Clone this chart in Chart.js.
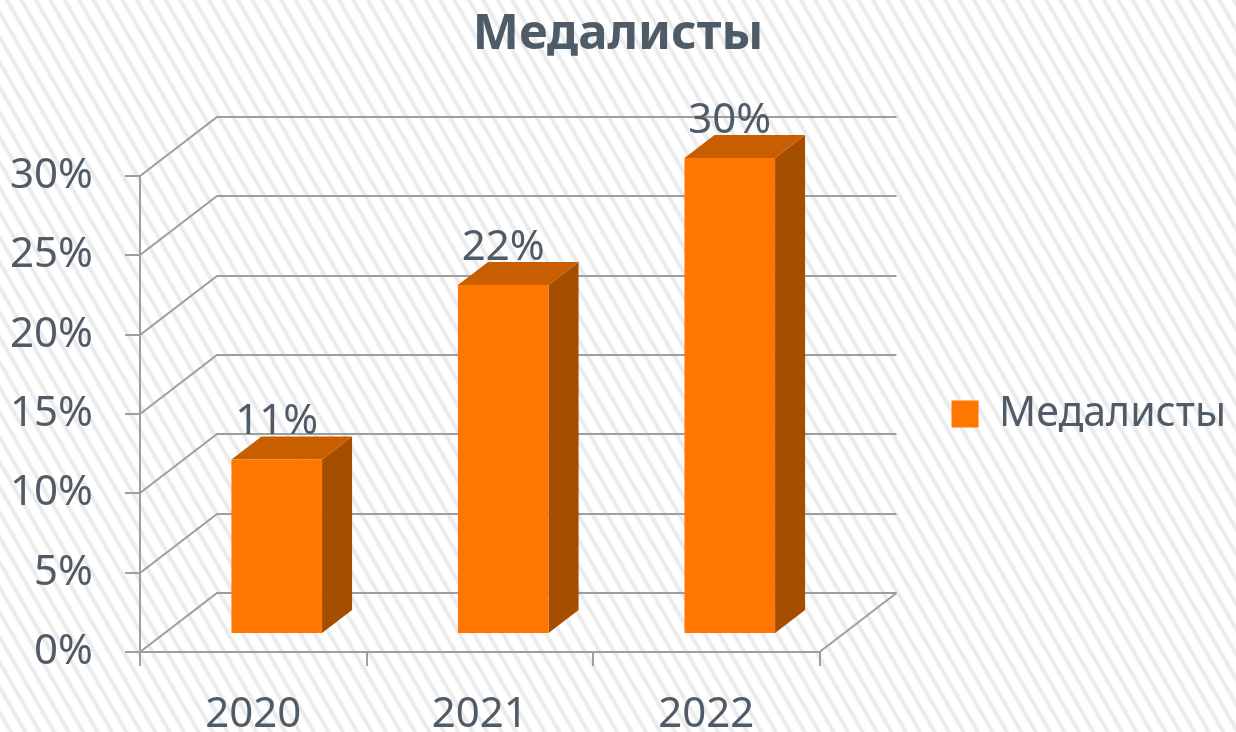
<!DOCTYPE html>
<html>
<head>
<meta charset="utf-8">
<script src="https://cdn.jsdelivr.net/npm/chart.js@4.4.1/dist/chart.umd.min.js"></script>
<style>
html, body { margin: 0; padding: 0; }
body {
  width: 1236px; height: 732px; overflow: hidden;
  background: repeating-linear-gradient(60deg, #ffffff 0px, #ffffff 6.5px, #ebebeb 8.5px, #ebebeb 10.5px, #ffffff 12.5px);
}
#wrap { width: 1236px; height: 732px; }
</style>
</head>
<body>
<div id="wrap"><canvas id="c" width="1236" height="732"></canvas></div>
<script>
// ---- data ----
const categories = ['2020', '2021', '2022'];
const seriesName = 'Медалисты';
const values = [11, 22, 30];
const yTickValues = [0, 5, 10, 15, 20, 25, 30];
const yTickLabels = ['0%', '5%', '10%', '15%', '20%', '25%', '30%'];
const chartTitle = 'Медалисты';

// ---- style ----
const TEXT = '#4F5B67';
const GRID = '#9E9E9E';
const FRONT = '#FF7700';
const TOP = '#C95E00';
const SIDE = '#A54E00';
const FONT = 'Noto Sans';
const DX = 77, DY = -59;          // depth of the 3D walls
const BAR_START = 0.305, BAR_DEPTH = 0.39;

const depth3d = {
  id: 'depth3d',
  beforeDatasetsDraw(chart) {
    const ctx = chart.ctx;
    const area = chart.chartArea;
    const ys = chart.scales.y;
    ctx.save();
    ctx.strokeStyle = GRID;
    ctx.lineWidth = 2;
    yTickValues.forEach(v => {
      const yF = Math.round(ys.getPixelForValue(v));
      ctx.beginPath();
      ctx.moveTo(area.left, yF);
      ctx.lineTo(area.left + DX, yF + DY);
      ctx.lineTo(area.right + DX, yF + DY);
      ctx.stroke();
    });
    const y0 = Math.round(ys.getPixelForValue(0));
    ctx.beginPath();
    ctx.moveTo(area.right, y0);
    ctx.lineTo(area.right + DX, y0 + DY);
    ctx.stroke();

    const meta = chart.getDatasetMeta(0);
    const fx = DX * BAR_START, fy = DY * BAR_START;
    const bx = DX * BAR_DEPTH, by = DY * BAR_DEPTH;
    meta.data.forEach((el, i) => {
      const p = el.getProps(['x', 'y', 'base', 'width'], true);
      const L = p.x - p.width / 2 + fx, R = p.x + p.width / 2 + fx;
      const T = p.y + fy, B = p.base + fy;
      ctx.fillStyle = SIDE;
      ctx.beginPath();
      ctx.moveTo(R, T); ctx.lineTo(R + bx, T + by); ctx.lineTo(R + bx, B + by); ctx.lineTo(R, B);
      ctx.closePath(); ctx.fill();
      ctx.fillStyle = TOP;
      ctx.beginPath();
      ctx.moveTo(L, T); ctx.lineTo(L + bx, T + by); ctx.lineTo(R + bx, T + by); ctx.lineTo(R, T);
      ctx.closePath(); ctx.fill();
      ctx.fillStyle = FRONT;
      ctx.fillRect(L, T, R - L, B - T);
      ctx.fillStyle = TEXT;
      ctx.font = '42px "' + FONT + '"';
      ctx.textAlign = 'center';
      ctx.textBaseline = 'alphabetic';
      ctx.fillText(values[i] + '%', (L + R) / 2, T + by - 2);
    });
    ctx.restore();
    return false;
  }
};

new Chart(document.getElementById('c'), {
  type: 'bar',
  data: {
    labels: categories,
    datasets: [{
      label: seriesName,
      data: values,
      backgroundColor: FRONT,
      borderWidth: 0,
      categoryPercentage: 1,
      barPercentage: 0.4
    }]
  },
  options: {
    responsive: false,
    animation: false,
    devicePixelRatio: 1,
    layout: { padding: 0 },
    plugins: {
      tooltip: { enabled: false },
      title: {
        display: true,
        text: chartTitle,
        color: TEXT,
        font: { family: FONT, size: 49, weight: 'bold', lineHeight: 1.2 },
        padding: { top: 6, bottom: 111.2 }
      },
      legend: {
        position: 'right',
        fullSize: false,
        labels: {
          color: TEXT,
          font: { family: FONT, size: 41 },
          boxWidth: 27,
          boxHeight: 27,
          padding: 6
        }
      }
    },
    scales: {
      x: {
        grid: { offset: true, drawOnChartArea: false, drawTicks: true, tickLength: 14, color: GRID, lineWidth: 2 },
        border: { display: true, color: GRID, width: 2 },
        ticks: { color: TEXT, font: { family: FONT, size: 42 }, padding: 24, maxRotation: 0 },
        afterFit: s => { s.height = 80; }
      },
      y: {
        min: 0, max: 30,
        afterBuildTicks: s => { s.ticks = yTickValues.map(v => ({ value: v })); },
        ticks: {
          color: TEXT, font: { family: FONT, size: 42 }, padding: 32,
          callback: (v) => yTickLabels[yTickValues.indexOf(v)]
        },
        grid: { drawOnChartArea: false, drawTicks: true, tickLength: 15, color: GRID, lineWidth: 2 },
        border: { display: true, color: GRID, width: 2 },
        afterFit: s => { s.width = 140; }
      },
      yR: {
        position: 'right',
        display: false,
        afterFit: s => { s.width = 126; }
      }
    }
  },
  plugins: [depth3d]
});
</script>
</body>
</html>
